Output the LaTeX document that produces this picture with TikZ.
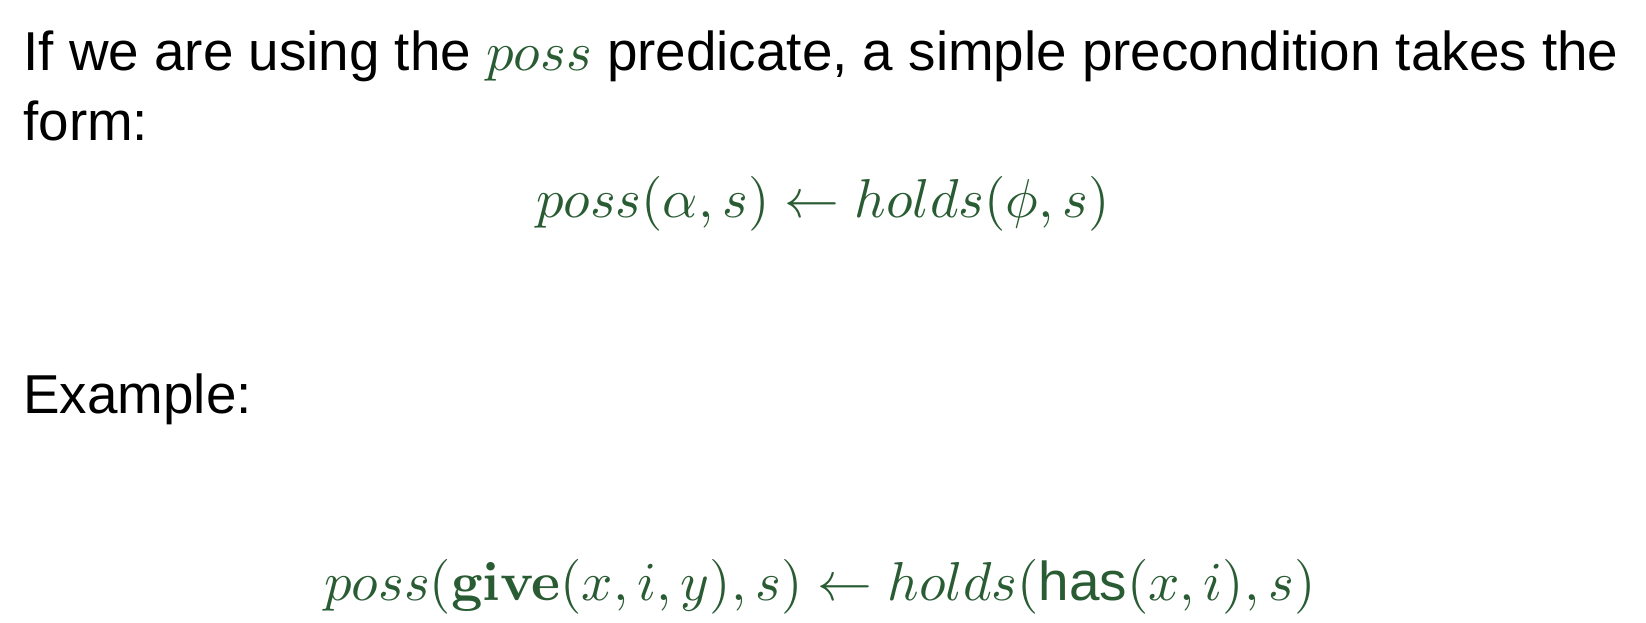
\documentclass[tikz,border=0pt]{standalone}
\usepackage[no-math]{fontspec}
\setmainfont{Liberation Sans}
\setsansfont{Liberation Sans}
\usepackage{amsmath}
\usepackage{tikz}
% math in the 10pt designs, scaled freely
\DeclareFontShape{OML}{cmm}{m}{it}{<->cmmi10}{}
\DeclareFontShape{OT1}{cmr}{m}{n}{<->cmr10}{}
\DeclareFontShape{OT1}{cmr}{bx}{n}{<->cmbx10}{}
\DeclareFontShape{OMS}{cmsy}{m}{n}{<->cmsy10}{}
\definecolor{predgreen}{RGB}{42,92,52}
\tikzset{slidetext/.style={anchor=base west, inner sep=0pt, font=\fontsize{27.4}{32}\selectfont},
    formula/.style={anchor=base, inner sep=0pt, text=predgreen, font=\fontsize{27.4}{32}\selectfont}
}

\begin{document}
\begin{tikzpicture}[x=0.5pt, y=-0.5pt]
            \useasboundingbox (0,0) rectangle (1646,622);
            \node[slidetext] (intro) at (23, 70) {If we are using the \textcolor{predgreen}{$poss$} predicate, a simple precondition takes the};
            \node[slidetext] (introend) at (23, 140) {form:};
            \node[formula] (rule) at (823, 217) {$poss(\alpha, s) \leftarrow holds(\phi, s)$};
            \node[slidetext] (example) at (23, 413) {Example:};
            \node[formula] (instance) at (820, 600) {$poss(\mathbf{give}(x, i, y), s) \leftarrow holds(\text{has}(x, i), s)$};
        \end{tikzpicture}
\end{document}
